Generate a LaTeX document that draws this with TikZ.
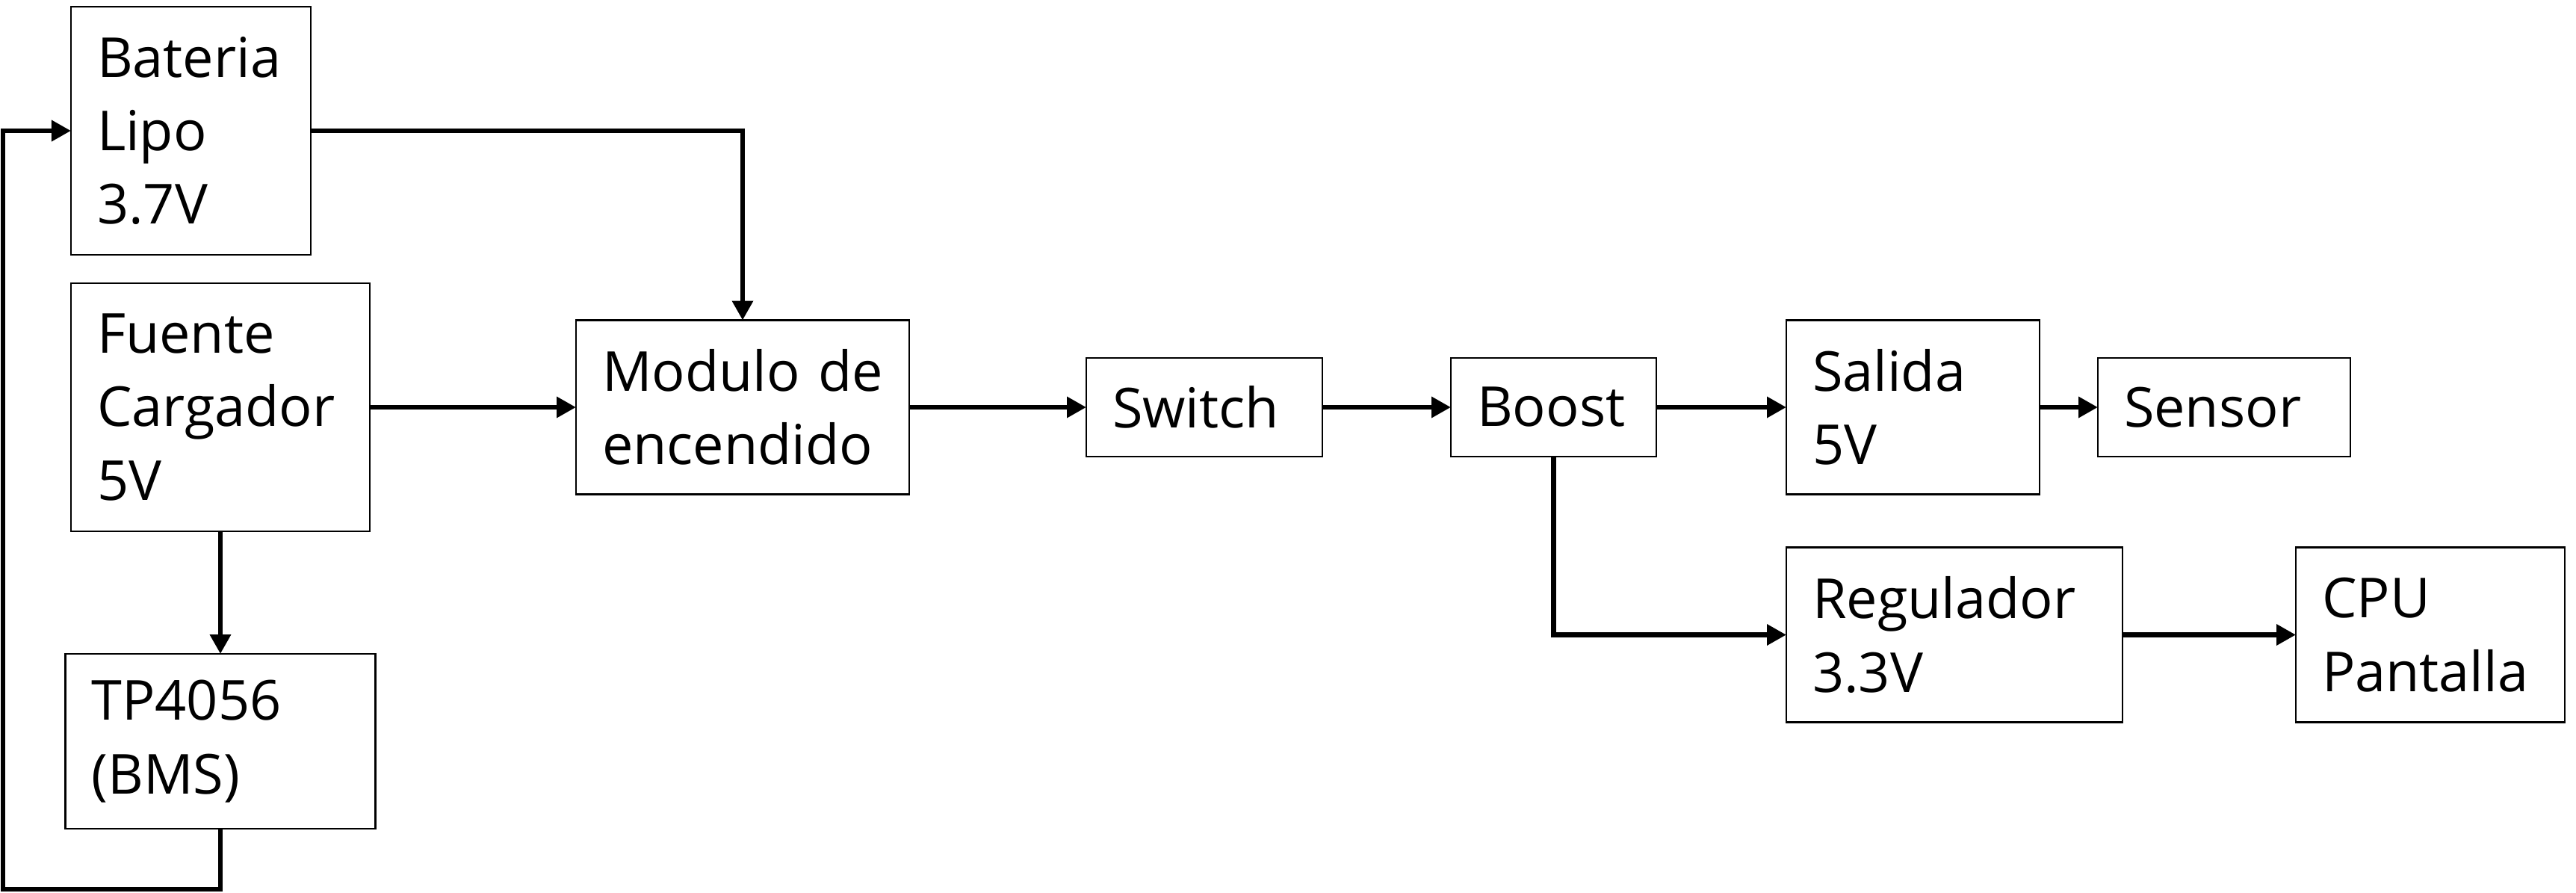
\documentclass[tikz,border=0pt]{standalone}
\usepackage{fontspec}
\setmainfont{Open Sans}
\usetikzlibrary{positioning, arrows.meta}
\tikzstyle{block} = [rectangle, draw=black, fill=white, line width=0.77pt, outer sep=0pt, align=left, inner xsep=0.35cm, inner ysep=0pt, font=\fontsize{21}{28}\selectfont]
\tikzstyle{arrow} = [line width=1.9pt, -{Triangle[length=0.26cm,width=0.27cm]}]

\begin{document}
\begin{tikzpicture}
    \useasboundingbox (0,0) rectangle (34.48,-11.95);

    \node (bateria) [block, text width=2.51cm, minimum height=3.32cm] at (2.555,-1.75) {Bateria\\Lipo\\3.7V};
    \node (fuente) [block, text width=3.30cm, minimum height=3.32cm, below=0.38cm of bateria.south west, anchor=north west] {Fuente\\Cargador\\5V};
    \node (tp) [block, text width=3.45cm, minimum height=2.34cm, below=1.64cm of fuente] {TP4056\\(BMS)};

    \node (modulo) [block, text width=3.76cm, minimum height=2.33cm, right=2.76cm of fuente] {Modulo~de\\encendido};
    \node (switch) [block, text width=2.46cm, minimum height=1.32cm, right=2.37cm of modulo] {Switch};
    \node (boost) [block, text width=2.05cm, minimum height=1.32cm, right=1.72cm of switch] {Boost};

    \node (salida) [block, text width=2.69cm, minimum height=2.33cm, right=1.74cm of boost] {Salida\\5V};
    \node (sensor) [block, text width=2.68cm, minimum height=1.32cm, right=0.78cm of salida] {Sensor};
    \node (regulador) [block, text width=3.80cm, minimum height=2.34cm, below=0.71cm of salida.south west, anchor=north west] {Regulador\\3.3V};
    \node (cpu) [block, text width=2.90cm, minimum height=2.34cm, right=2.32cm of regulador] {CPU\\Pantalla};

    \coordinate (retorno) at (0.04,-11.90);

    \draw [arrow] (bateria.east) -| (modulo.north);
    \draw [arrow] (fuente) -- (modulo);
    \draw [arrow] (fuente) -- (tp);
    \draw [arrow] (tp.south) |- (retorno) |- (bateria.west);

    \draw [arrow] (modulo) -- (switch);
    \draw [arrow] (switch) -- (boost);
    \draw [arrow] (boost) -- (salida);
    \draw [arrow] (salida) -- (sensor);

    \draw [arrow] (boost.south) |- (regulador.west);
    \draw [arrow] (regulador) -- (cpu);

\end{tikzpicture}
\end{document}
